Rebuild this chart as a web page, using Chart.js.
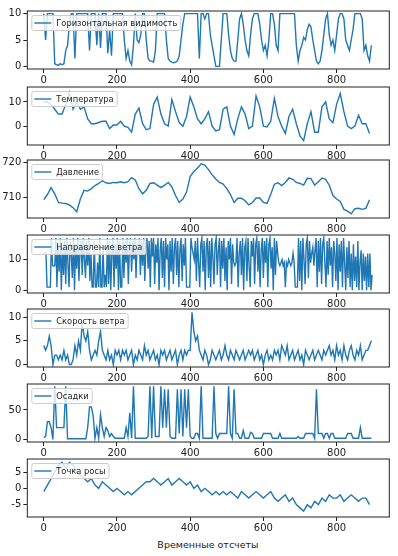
<!DOCTYPE html>
<html lang="ru">

<head>
    <meta charset="utf-8">
    <title>Weather series</title>
    <script src="https://cdn.jsdelivr.net/npm/chart.js"></script>
    <style>
        body {
            margin: 0;
            background: #fff;
        }

        #page {
            position: relative;
            width: 398px;
            height: 556px;
            background: #fff;
            overflow: hidden;
        }

        .panel {
            position: absolute;
            left: 0;
        }

        .xlabel {
            position: absolute;
            left: 27px;
            width: 362px;
            top: 539px;
            text-align: center;
            font-family: "DejaVu Sans", sans-serif;
            font-size: 9.5px;
            color: #222;
        }
    </style>
</head>

<body>
    <div id="page">
        <div class="xlabel">Временные отсчеты</div>
    </div>

    <script>
        // time axis ticks
        const xTicks = [0, 200, 400, 600, 800];

        // step 5 samples
        const visibility = [
            10, 5, 10, 10, 10, 10, 0.5, 0.3, 0.2, 0.5,
            0.3, 0.5, 3, 4, 8, 10, 10, 1.5, 10, 10,
            10, 10, 10, 10, 10, 3, 10, 10, 10, 4,
            10, 3.5, 10, 10, 10, 2.5, 7, 2, 10, 10,
            10, 10, 10, 10, 5, 1.5, 3, 1, 0.3, 4,
            10, 5, 4.5, 6, 10, 10, 5, 1.5, 1, 1,
            0.8, 3, 10, 10, 10, 10, 10, 5, 1.5, 1,
            0.8, 0.7, 0.8, 1, 2, 5, 8, 10, 10, 10,
            10, 10, 10, 10, 10, 1.5, 10, 10, 9, 10,
            10, 6, 4, 2, 0, 0, 0, 5, 10, 10,
            10, 6, 3, 1.5, 1, 1, 5, 9, 10, 8,
            5, 3, 2, 6, 9, 10, 10, 10, 8, 5,
            3, 4, 2, 5, 10, 10, 8, 4, 3, 10,
            10, 10, 10, 10, 10, 10, 10, 10, 4, 1,
            3, 4, 5.5, 5, 7, 8, 7.5, 5, 3, 1,
            0.5, 1, 3, 6, 9, 10, 6, 4, 5, 3,
            6, 9, 10, 10, 9, 5, 4, 3, 5, 7,
            10, 10, 10, 10, 9, 3, 4, 2, 1, 4
        ];

        // step 10 samples
        const temperature = [
            10, 10, 9, 7, 5, 5, 9, 14, 7, 10,
            7, 8, 3, 1, 1, 1.5, 2, 2, -1, 0.5,
            0.5, 2, 0, -0.5, -2.5, 5, 7.5, 1, -1.5, -1,
            9, 12, 5, 1, 0, 11, 6, 1.5, 0, 4,
            12, 8, 3, 1, 3, 6, 0, -2, -1.5, 7,
            8, 0, -3.5, 3, 8, 5, -1, 0, 12.5, 8,
            0, -0.3, 2, 11.5, 4, 0, -3, 4, 7, 1,
            -4, -6, 1, 6, -2.5, -2.5, 8, 10, 3, 1.5,
            9, 13.5, 6, 0, -1, 0, 4.5, 1, 1, -3
        ];

        // step 10 samples
        const pressure = [
            709.3, 710.8, 712.8, 711, 708.5, 708.3, 708.2, 707.8, 707, 705.8,
            709.5, 712, 711.8, 712.5, 713.4, 714, 714.8, 714.2, 714, 714.3,
            714.2, 714.5, 714.2, 714.5, 715.7, 715, 712.5, 711, 712, 714,
            714.2, 713.5, 712.8, 713.5, 714.3, 713, 710.5, 708.5, 709.5, 711.5,
            716, 717.5, 718.5, 719.7, 719.3, 718, 716.5, 715.3, 714.3, 713.8,
            712.5, 710.8, 708.5, 709.7, 709.7, 709, 707.8, 708.5, 709.8, 709.8,
            708.5, 708.2, 710.8, 713.8, 714.2, 713.4, 714.3, 715.6, 715.2, 714.3,
            714, 713.5, 715.5, 715.4, 713.5, 714.5, 715.6, 715.2, 713.5, 710.5,
            709.5, 708.8, 706.5, 706, 705.2, 706.7, 706.8, 706.5, 706.8, 709.3
        ];

        // step 3 samples
        const windDir = [
            12, 12, 12, 1, 1, 1, 1, 17, 8, 8,
            8, 17, 1, 15, 6, 17, 0, 14, 5, 16,
            2, 17, 9, 1, 16, 12, 4, 17, 0, 15,
            7, 17, 3, 13, 16, 5, 17, 10, 4, 16,
            8, 17, 3, 12, 1, 1, 16, 1, 1, 9,
            1, 17, 1, 1, 14, 1, 5, 1, 17, 2,
            16, 0, 12, 17, 1, 15, 7, 17, 0, 16,
            1, 1, 17, 4, 16, 9, 17, 2, 14, 17,
            6, 16, 10, 17, 4, 15, 12, 17, 5, 16,
            8, 17, 3, 14, 17, 7, 16, 1, 17, 11,
            17, 2, 15, 9, 17, 0, 13, 17, 4, 16,
            1, 17, 10, 15, 0, 16, 6, 17, 2, 14,
            17, 5, 16, 1, 13, 17, 3, 15, 8, 17,
            1, 1, 1, 1, 17, 14, 12, 10, 16, 3,
            17, 9, 1, 15, 17, 6, 16, 0, 14, 17,
            4, 16, 1, 17, 11, 2, 15, 17, 5, 13,
            17, 1, 16, 7, 17, 3, 14, 0, 16, 10,
            17, 2, 15, 9, 8, 9, 17, 1, 12, 16,
            5, 17, 0, 14, 16, 3, 17, 8, 1, 16,
            11, 17, 2, 15, 17, 6, 16, 1, 13, 17,
            4, 16, 9, 17, 1, 15, 17, 7, 14, 0,
            17, 5, 16, 12, 9, 8, 9, 10, 8, 9,
            1, 9, 8, 10, 9, 8, 9, 12, 9, 1,
            1, 1, 17, 3, 16, 0, 17, 10, 2, 15,
            17, 4, 16, 9, 12, 14, 8, 13, 17, 1,
            16, 6, 17, 2, 15, 17, 9, 1, 16, 5,
            17, 8, 14, 1, 16, 12, 3, 17, 0, 15,
            6, 16, 1, 17, 9, 0, 14, 4, 16, 1,
            12, 0, 15, 3, 11, 1, 16, 0, 9, 13,
            0, 12, 3, 11, 0, 12, 1, 12, 0, 5
        ];

        // step 5 samples
        const windSpeed = [
            4, 3, 4, 6, 4, 0, 2, 2, 1, 2,
            1, 3, 1, 2, 0, 0, 1, 4, 2, 5,
            3, 9, 6, 5, 7, 3, 1, 2, 3, 2,
            5, 7, 3, 2, 1, 3, 1, 2, 0, 3,
            2, 3, 1, 3, 2, 3, 1, 2, 3, 0,
            2, 1, 3, 2, 1, 4, 2, 3, 1, 2,
            3, 1, 2, 0, 3, 2, 3, 1, 2, 3,
            1, 2, 3, 0, 2, 3, 1, 3, 2, 3,
            3, 11, 7, 5, 6, 3, 2, 1, 3, 2,
            0, 1, 3, 2, 1, 2, 3, 1, 2, 4,
            2, 1, 3, 2, 1, 3, 2, 1, 2, 3,
            1, 2, 3, 2, 3, 1, 2, 3, 1, 2,
            0, 2, 3, 1, 2, 1, 3, 2, 3, 1,
            4, 3, 2, 4, 1, 2, 3, 1, 2, 3,
            1, 2, 0, 3, 2, 1, 2, 3, 1, 2,
            3, 2, 1, 3, 2, 3, 4, 2, 3, 1,
            4, 2, 3, 1, 4, 2, 1, 3, 4, 2,
            1, 3, 2, 4, 1, 2, 3, 3, 4, 5
        ];

        // step 5 samples
        const precip = [
            3, 5, 30, 30, 20, 0, 90, 20, 20, 20,
            20, 20, 90, 1, 1, 1, 1, 1, 1, 1,
            1, 1, 1, 1, 20, 55, 55, 40, 2, 20,
            2, 42, 20, 5, 20, 15, 5, 10, 5, 2,
            2, 2, 2, 2, 2, 20, 5, 45, 2, 90,
            2, 2, 2, 2, 2, 2, 2, 5, 90, 2,
            90, 5, 5, 5, 90, 20, 85, 20, 85, 5,
            2, 2, 2, 85, 10, 85, 5, 85, 20, 85,
            5, 2, 2, 10, 10, 2, 90, 2, 2, 2,
            2, 2, 2, 90, 10, 2, 10, 10, 10, 10,
            10, 90, 10, 2, 85, 10, 10, 2, 2, 15,
            2, 2, 2, 12, 10, 2, 2, 2, 2, 2,
            10, 10, 10, 10, 10, 2, 2, 2, 2, 10,
            2, 2, 2, 2, 2, 2, 2, 2, 2, 5,
            2, 2, 2, 10, 10, 10, 10, 10, 2, 85,
            10, 10, 10, 2, 10, 10, 2, 10, 10, 2,
            2, 2, 2, 2, 2, 2, 10, 10, 10, 2,
            2, 2, 2, 20, 2, 2, 2, 2, 2, 2
        ];

        // step 10 samples
        const dewPoint = [
            -1, 1, 3, 5, 7, 8, 6, 8, 7, 5,
            4, 3, 2, 3, 1, 0, 2, 1, 0, -1,
            0, -1, -2, -1, -2, -1, 0, 1, 2, 2,
            3, 2, 1, 2, 3, 1, 2, 3, 2, 1,
            2, 0, 1, -1, 0, -1, -2, -1, -2, -1,
            -2, -1, -2, -3, -1, -2, -3, -2, -1, -2,
            -3, -2, -1, -3, -4, -3, -2, -4, -3, -5,
            -6, -7, -5, -6, -4, -5, -3, -4, -2, -3,
            -3, -2, -4, -3, -2, -3, -4, -3, -3, -5
        ];

        const labels = ['Горизонтальная видимость', 'Температура', 'Давление', 'Направление ветра',
            'Скорость ветра', 'Осадки', 'Точка росы'];
        const series = [visibility, temperature, pressure, windDir, windSpeed, precip, dewPoint];
        const steps = [5, 10, 10, 3, 5, 5, 10];
        const yTicks = [[0, 5, 10], [0, 10], [710, 720], [0, 10], [0, 5, 10], [0, 50], [-5, 0, 5]];
        const yLimits = [[-0.5, 10.5], [-7.8, 16.2], [704, 720.8], [-0.9, 18], [-0.5, 11.7], [-4.4, 94], [-8.8, 9]];

        // layout of the axes boxes (px)
        const boxTops = [7, 83, 156, 231, 305, 380, 455];
        const BOX_H = 62;
        const PAD = 4;
        const AX_H = 16;
        const INK = '#222';
        const BLUE = '#1f77b4';

        const frame = {
            id: 'frame',
            afterDraw(chart) {
                const a = chart.chartArea;
                const ctx = chart.ctx;
                ctx.save();
                ctx.strokeStyle = INK;
                ctx.lineWidth = 1;
                ctx.strokeRect(a.left, a.top, a.right - a.left, a.bottom - a.top);
                ctx.restore();
            }
        };

        // matplotlib style legend, upper left inside the axes
        const legendBox = {
            id: 'legendBox',
            afterDraw(chart) {
                const a = chart.chartArea;
                const ctx = chart.ctx;
                const ds = chart.data.datasets[0];
                ctx.save();
                ctx.font = '8.3px "DejaVu Sans"';
                const tw = ctx.measureText(ds.label).width;
                const x = a.left + 4.5, y = a.top + 4.5, h = 15;
                const w = 24.5 + tw + 3.5;
                ctx.beginPath();
                ctx.roundRect(x, y, w, h, 2);
                ctx.fillStyle = 'rgba(255,255,255,0.8)';
                ctx.fill();
                ctx.strokeStyle = '#cccccc';
                ctx.lineWidth = 1;
                ctx.stroke();
                ctx.beginPath();
                ctx.moveTo(x + 2.5, y + h / 2);
                ctx.lineTo(x + 19.5, y + h / 2);
                ctx.strokeStyle = BLUE;
                ctx.lineWidth = 1.4;
                ctx.stroke();
                ctx.fillStyle = INK;
                ctx.textBaseline = 'middle';
                ctx.fillText(ds.label, x + 24.5, y + h / 2 + 0.5);
                ctx.restore();
            }
        };

        const page = document.getElementById('page');
        const tickFont = { family: 'DejaVu Sans', size: 10 };

        series.forEach((vals, p) => {
            const h = PAD + BOX_H + AX_H;
            const div = document.createElement('div');
            div.className = 'panel';
            div.style.top = (boxTops[p] - PAD) + 'px';
            div.style.width = '398px';
            div.style.height = h + 'px';
            const cv = document.createElement('canvas');
            cv.width = 398;
            cv.height = h;
            div.appendChild(cv);
            page.appendChild(div);

            const pts = vals.map((v, i) => ({ x: i * steps[p], y: v }));

            new Chart(cv, {
                type: 'line',
                data: {
                    datasets: [{
                        label: labels[p],
                        data: pts,
                        borderColor: BLUE,
                        borderWidth: 1.4,
                        pointRadius: 0,
                        tension: 0,
                        fill: false
                    }]
                },
                options: {
                    responsive: false,
                    animation: false,
                    layout: { padding: { left: 0, right: 8.7, top: PAD, bottom: 0 } },
                    plugins: { legend: { display: false }, tooltip: { enabled: false } },
                    scales: {
                        x: {
                            type: 'linear',
                            min: -45,
                            max: 944,
                            afterBuildTicks: s => { s.ticks = xTicks.map(v => ({ value: v })); },
                            afterFit: s => { s.height = AX_H; },
                            grid: { drawOnChartArea: false, tickLength: 4, color: INK },
                            border: { display: false },
                            ticks: { font: tickFont, color: INK, padding: 1, maxRotation: 0, autoSkip: false }
                        },
                        y: {
                            min: yLimits[p][0],
                            max: yLimits[p][1],
                            afterBuildTicks: s => { s.ticks = yTicks[p].map(v => ({ value: v })); },
                            afterFit: s => { s.width = 27.3; },
                            grid: { drawOnChartArea: false, tickLength: 4, color: INK },
                            border: { display: false },
                            ticks: { font: tickFont, color: INK, padding: 2, autoSkip: false }
                        }
                    }
                },
                plugins: [frame, legendBox]
            });
        });
    </script>
</body>

</html>
